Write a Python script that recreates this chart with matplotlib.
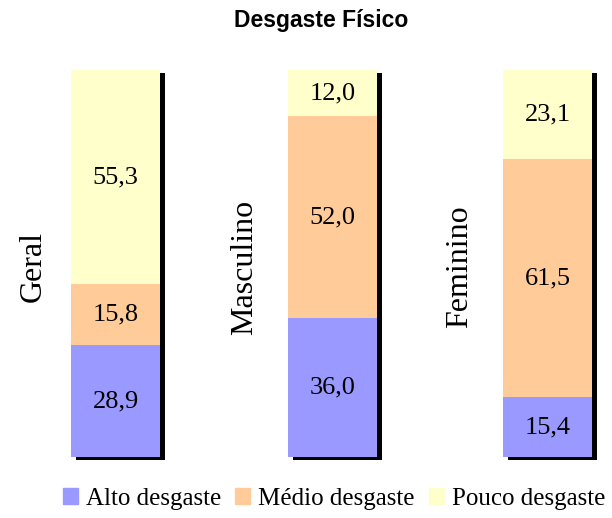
import matplotlib.pyplot as plt

# ── data ──────────────────────────────────────────
groups = ["Geral", "Masculino", "Feminino"]
series = ["Alto desgaste", "Médio desgaste", "Pouco desgaste"]
alto = [28.9, 36.0, 15.4]
medio = [15.8, 52.0, 61.5]
pouco = [55.3, 12.0, 23.1]
colors = ["#9999FF", "#FFCC99", "#FFFFCC"]

W, H = 612, 518
fig = plt.figure(figsize=(W / 100, H / 100), dpi=100)
fig.patch.set_facecolor("white")

serif = "Liberation Serif"
bar_left = [71, 288, 503]
bar_w = 89
bar_top, bar_bot = 70, 457
label_x = [33, 245, 460]

for i, g in enumerate(groups):
    ax = fig.add_axes([bar_left[i] / W, (H - bar_bot) / H, bar_w / W, (bar_bot - bar_top) / H])
    ax.set_xlim(0, 1)
    ax.set_ylim(0, 100)
    ax.axis("off")
    vals = [alto[i], medio[i], pouco[i]]
    total = sum(vals)
    # shadow
    dx = 5 / bar_w
    dy = 3 / (bar_bot - bar_top) * 100
    ax.bar(0.5 + dx, total, width=1, bottom=-dy, color="black", clip_on=False, zorder=1)
    bottom = 0
    for v, c in zip(vals, colors):
        ax.bar(0.5, v, width=1, bottom=bottom, color=c, clip_on=False, zorder=2)
        ax.text(0.5, bottom + v / 2, f"{v:.1f}".replace(".", ","), ha="center", va="center",
                fontsize=19, family=serif, zorder=3)
        bottom += v
    fig.text(label_x[i] / W, 1 - 267 / H, g, rotation=90, ha="center", va="center",
             fontsize=23, family=serif)

fig.text(321 / W, 1 - 27 / H, "Desgaste Físico", ha="center", va="baseline",
         fontsize=16.5, fontweight="bold", family="Liberation Sans")

handles = [plt.Rectangle((0, 0), 1, 1, color=c) for c in colors]
fig.legend(handles, series, loc="center", bbox_to_anchor=(334 / W, 1 - 499 / H), ncol=3,
           frameon=False, prop={"family": serif, "size": 18}, handlelength=0.6,
           handleheight=0.6, handletextpad=0.32, columnspacing=0.56,
           borderpad=0, borderaxespad=0)

plt.savefig("out.png", dpi=100)
